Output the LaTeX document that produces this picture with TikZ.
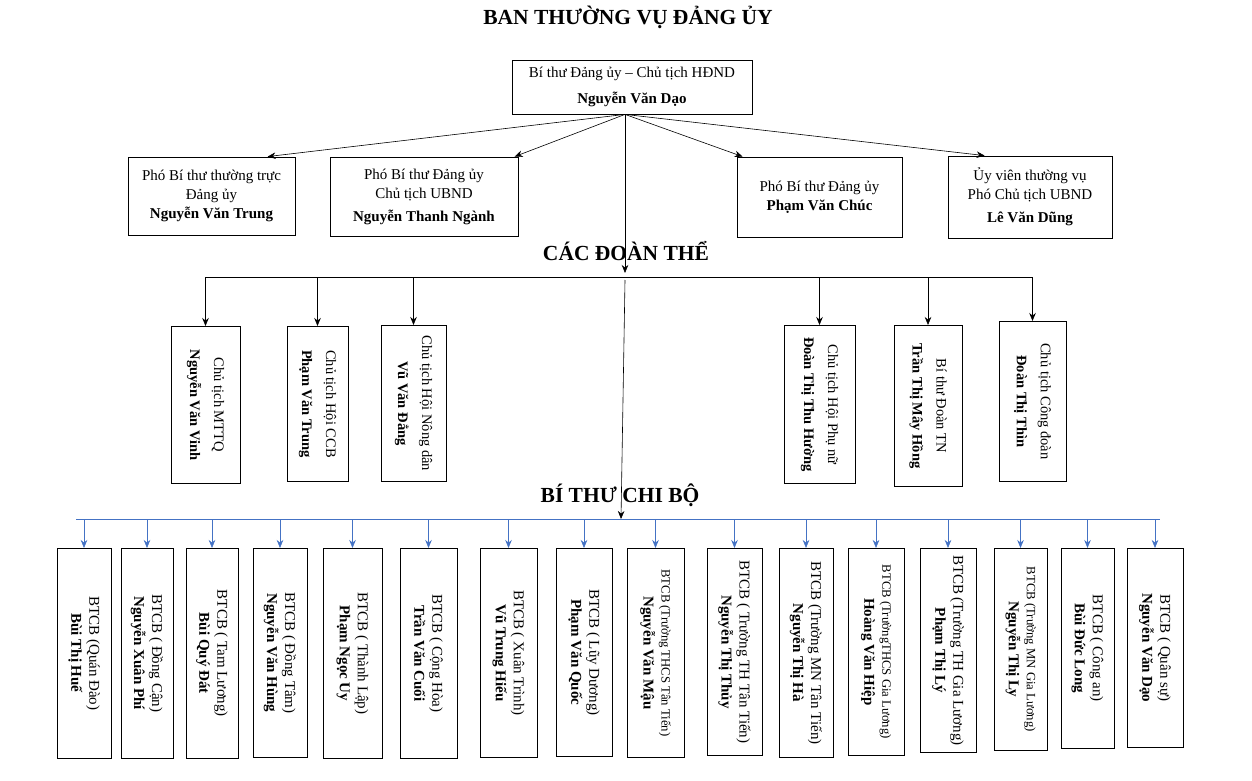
\documentclass[tikz,border=0pt]{standalone}
\usepackage{fontspec}
\setmainfont{Liberation Serif}
\usetikzlibrary{arrows.meta}
\definecolor{linkblue}{HTML}{4472C4}
\begin{document}
\begin{tikzpicture}[x=1pt, y=-1pt, >={Stealth[length=8pt,width=6.5pt]}, line width=0.6pt,
  every node/.style={font=\fontsize{15}{19}\selectfont},
  box/.style={draw, line width=0.8pt, align=center, inner sep=0pt},
  vbox/.style={box, rotate=-90, anchor=west},
  head/.style={font=\fontsize{21.5}{24}\selectfont\bfseries}]
  \useasboundingbox (0,0) rectangle (1252,781);
  % ban thuong vu
  \node[head] (title) at (628,17) {BAN THƯỜNG VỤ ĐẢNG ỦY};
  \node[box, minimum width=240pt, minimum height=54pt] (bt) at (632,87)
    {Bí thư Đảng ủy – Chủ tịch HĐND\\[7pt]\textbf{Nguyễn Văn Dạo}};
  \foreach \n/\x/\y/\w/\h/\t in {
      p1/211.5/196/167/78/{Phó Bí thư thường trực\\Đảng ủy\\\textbf{Nguyễn Văn Trung}},
      p2/424/196.5/188/79/{Phó Bí thư Đảng ủy\\Chủ tịch UBND\\[4pt]\textbf{Nguyễn Thanh Ngành}},
      p3/819.5/197/165/80/{Phó Bí thư Đảng ủy\\\textbf{Phạm Văn Chúc}},
      p4/1030/197/164/82/{Ủy viên thường vụ\\Phó Chủ tịch UBND\\[4pt]\textbf{Lê Văn Dũng}}}
    \node[box, minimum width=\w pt, minimum height=\h pt] (\n) at (\x,\y) {\t};
  \coordinate (hub) at ([xshift=-7pt]bt.south);
  \foreach \n/\s in {p1/140, p2/185, p3/6, p4/37}
    \draw[->] (hub) -- ([xshift=\s pt]\n.north west);
  % cac doan the
  \node[head] (dthead) at (626,251) {CÁC ĐOÀN THỂ};
  \foreach \n/\x/\y/\w/\h/\t/\u in {
      m1/205.5/326/157/69/{Chủ tịch MTTQ}/{Nguyễn Văn Vinh},
      m2/317.5/326/155/61/{Chủ tịch Hội CCB}/{Phạm Văn Trung},
      m3/413.5/325/156/65/{Chủ tịch Hội Nông dân}/{Vũ Văn Đẳng},
      m4/819.5/325/158/71/{Chủ tịch Hội Phụ nữ}/{Đoàn Thị Thu Hường},
      m5/928/325/161/68/{Bí thư Đoàn TN}/{Trần Thị Mây Hồng},
      m6/1032.5/321/160/67/{Chủ tịch Công đoàn}/{Đoàn Thị Thìn}}
    \node[vbox, minimum width=\w pt, minimum height=\h pt,
      font=\fontsize{14.5}{18}\selectfont] (\n) at (\x,\y) {\t\\[6pt]\textbf{\u}};
  \coordinate (dt) at (625,277);
  \draw[->] (hub) -- ([yshift=4pt]dt);
  \draw (m1.west |- dt) -- (m6.west |- dt);
  \foreach \i in {1,...,6}
    \draw[->] (m\i.west |- dt) -- (m\i.west);
  % bi thu chi bo
  \node[head] (cbhead) at (620,495) {BÍ THƯ CHI BỘ};
  \foreach \i/\x/\w/\h/\s/\t/\u in {
      1/84/210/54/15/{BTCB (Quán Đào)}/{Bùi Thị Huế},
      2/147/210/52/15/{BTCB ( Đồng Cận)}/{Nguyễn Xuân Phí},
      3/212/210/52/15/{BTCB ( Tam Lương)}/{Bùi Quý Đát},
      4/280/209/54/15/{BTCB ( Đồng Tâm)}/{Nguyễn Văn Hùng},
      5/352.5/210/59/15/{BTCB ( Thành Lập)}/{Phạm Ngọc Uy},
      6/428.5/210/57/15/{BTCB ( Cộng Hòa)}/{Trần Văn Cuối},
      7/508.5/209/57/15/{BTCB ( Xuân Trình)}/{Vũ Trung Hiếu},
      8/584/208/56/15/{BTCB ( Lũy Dương)}/{Phạm Văn Quốc},
      9/655.5/209/57/12.7/{BTCB (Trường THCS Tân Tiến)}/{Nguyễn Văn  Mậu},
      10/734.5/207/55/15/{BTCB ( Trường TH Tân Tiến)}/{Nguyễn Thị Thủy},
      11/806/209/54/15/{BTCB (Trường MN Tân Tiến)}/{Nguyễn Thị Hà},
      12/876/207/56/12.7/{BTCB (TrườngTHCS Gia Lương)}/{Hoàng Văn Hiệp},
      13/948/204/56/15/{BTCB (Trường TH Gia Lương)}/{Phạm Thị Lý},
      14/1020.5/202/53/12.7/{BTCB (Trường MN Gia Lương)}/{Nguyễn Thị Ly},
      15/1087.5/200/53/15/{BTCB ( Công an)}/{Bùi Đức Long},
      16/1155/199/56/15/{BTCB ( Quân sự)}/{Nguyễn Văn Dạo}}
    \node[vbox, minimum width=\w pt, minimum height=\h pt,
      font=\fontsize{15}{18}\selectfont] (c\i) at (\x,548)
      {{\fontsize{\s}{18}\selectfont\t}\\\textbf{\u}};
  \coordinate (cb) at (621,519);
  \draw[->] ([yshift=-3pt]dt) -- (cb);
  \draw[linkblue] ([xshift=-8pt]c1.west |- cb) -- ([xshift=5pt]c16.west |- cb);
  \foreach \i in {1,...,16}
    \draw[linkblue, ->] (c\i.west |- cb) -- (c\i.west);
\end{tikzpicture}
\end{document}
